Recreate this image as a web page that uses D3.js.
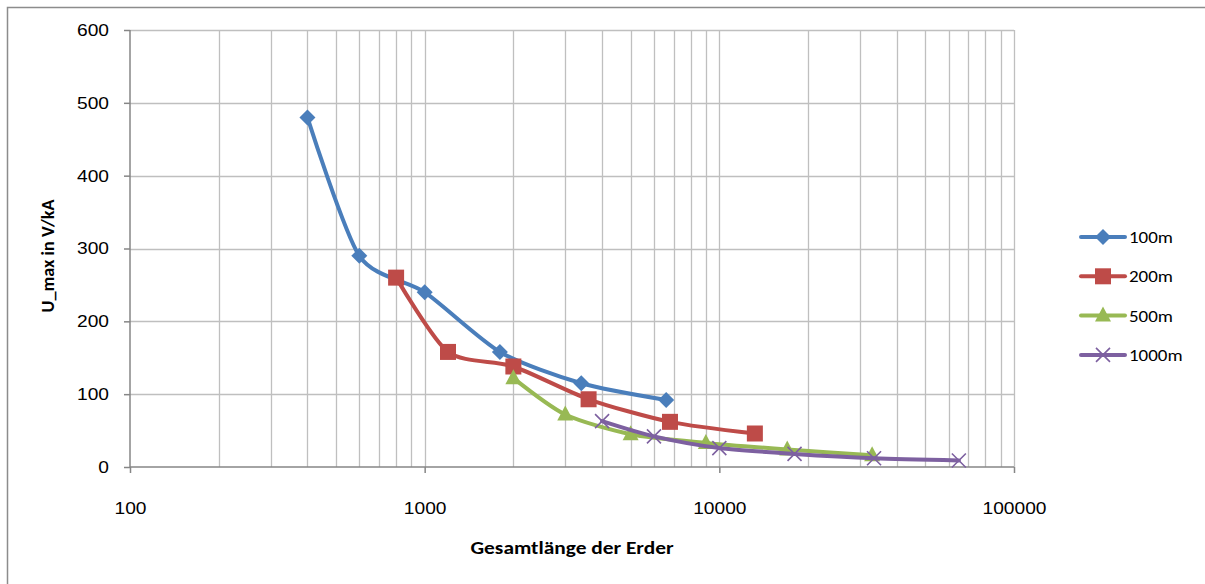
<!DOCTYPE html>
<html><head><meta charset="utf-8">
<script src="https://cdn.jsdelivr.net/npm/d3@7"></script>
<style>body{margin:0;background:#fff}svg{display:block;font-family:Carlito,Calibri,Lato,"Open Sans",sans-serif}</style>
</head><body><svg id="c" width="1205" height="584"></svg>
<script>
const seriesNames = ["100m","200m","500m","1000m"];
const x100 = [400,600,1000,1800,3400,6600];
const y100 = [480,290,240,158,115,92];
const x200 = [800,1200,2000,3600,6800,13200];
const y200 = [260,158,138,93,62,46];
const x500 = [2000,3000,5000,9000,17000,33000];
const y500 = [122,72,45,33,24,16];
const x1000 = [4000,6000,10000,18000,33500,65000];
const y1000 = [63,42,26,18,12,9];
const xTicks = [100,1000,10000,100000];
const yTicks = [0,100,200,300,400,500,600];
const colors = ["#4A7EBB","#BE4B48","#98B954","#7D60A0"];
const markers = ["diamond","square","triangle","x"];

const svg = d3.select("#c");
const L=130,R=1014,T=30,B=467;
const SX=1.13;
const x = d3.scaleLog().domain([100,100000]).range([L,R]);
const y = d3.scaleLinear().domain([0,600]).range([B,T]);

// frame
svg.append("path").attr("d","M7.5,584 L7.5,7.5 L1205,7.5").attr("fill","none").attr("stroke","#8c8c8c").attr("stroke-width",1.5);

// grid
const minor=[];
for(let d=100; d<100000; d*=10) for(let k=1;k<=9;k++) minor.push(d*k);
minor.push(100000);
svg.append("g").selectAll("line").data(minor.filter(v=>v>100)).join("line")
 .attr("x1",d=>Math.round(x(d))+0.5).attr("x2",d=>Math.round(x(d))+0.5).attr("y1",T).attr("y2",B)
 .attr("stroke","#bfbfbf").attr("stroke-width",1.3);
svg.append("g").selectAll("line").data(yTicks.filter(v=>v>0)).join("line")
 .attr("x1",L).attr("x2",R).attr("y1",d=>Math.round(y(d))+0.5).attr("y2",d=>Math.round(y(d))+0.5)
 .attr("stroke","#bfbfbf").attr("stroke-width",1.3);

// axes
const ya = svg.append("g").attr("transform",`translate(${L},0)`).call(d3.axisLeft(y).tickValues(yTicks).tickSize(6).tickPadding(15));
const xa = svg.append("g").attr("transform",`translate(0,${B})`).call(d3.axisBottom(x).tickValues(xTicks).tickFormat(d3.format("d")).tickSize(6).tickPadding(29));
[ya,xa].forEach(a=>{a.selectAll("path,line").attr("stroke","#868686").attr("stroke-width",1.5);
 a.selectAll("text").attr("font-size",17).attr("fill","#000");});
ya.selectAll("text").attr("x",-21/SX).attr("transform",`scale(${SX},1)`);
xa.selectAll("text").attr("transform",`scale(${SX},1)`);
xa.select(".domain").attr("d",`M${L},0H${R}`);
ya.select(".domain").attr("d",`M0,${B}V${T}`);

svg.append("text").attr("x",572).attr("y",554).attr("text-anchor","middle").attr("font-size",17).attr("font-weight","bold")
 .attr("textLength",203).attr("lengthAdjust","spacingAndGlyphs").text("Gesamtlänge der Erder");
svg.append("text").attr("transform","translate(54,256) rotate(-90)").attr("text-anchor","middle").attr("font-size",17).attr("font-weight","bold")
 .attr("textLength",113).attr("lengthAdjust","spacingAndGlyphs").text("U_max in V/kA");

const data = [[x100,y100],[x200,y200],[x500,y500],[x1000,y1000]];
const line = d3.line().curve(d3.curveCardinal.tension(0.25)).x(d=>x(d[0])).y(d=>y(d[1]));

function marker(g,type,cx,cy,col){
  if(type==="diamond") g.append("path").attr("d",`M${cx},${cy-8}L${cx+8},${cy}L${cx},${cy+8}L${cx-8},${cy}Z`).attr("fill",col);
  else if(type==="square") g.append("rect").attr("x",cx-8).attr("y",cy-8).attr("width",16).attr("height",16).attr("fill",col);
  else if(type==="triangle") g.append("path").attr("d",`M${cx},${cy-9}L${cx+8},${cy+6}L${cx-8},${cy+6}Z`).attr("fill",col);
  else g.append("path").attr("d",`M${cx-7},${cy-7}L${cx+7},${cy+7}M${cx-7},${cy+7}L${cx+7},${cy-7}`).attr("stroke",col).attr("stroke-width",1.6);
}

data.forEach((s,i)=>{
  const pts = s[0].map((v,j)=>[v,s[1][j]]);
  const g = svg.append("g");
  g.append("path").attr("d",line(pts)).attr("fill","none").attr("stroke",colors[i]).attr("stroke-width",4).attr("stroke-linecap","round").attr("stroke-linejoin","round");
  pts.forEach(p=>marker(g,markers[i],x(p[0]),y(p[1]),colors[i]));
});

// legend
seriesNames.forEach((n,i)=>{
  const ly = 237 + i*39.3;
  const g = svg.append("g");
  g.append("line").attr("x1",1081).attr("x2",1125).attr("y1",ly).attr("y2",ly).attr("stroke",colors[i]).attr("stroke-width",4).attr("stroke-linecap","round");
  marker(g,markers[i],1103,ly,colors[i]);
  g.append("text").attr("transform",`translate(1129,${ly+6}) scale(1.15,1)`).attr("font-size",16.5).text(n);
});
</script></body></html>
